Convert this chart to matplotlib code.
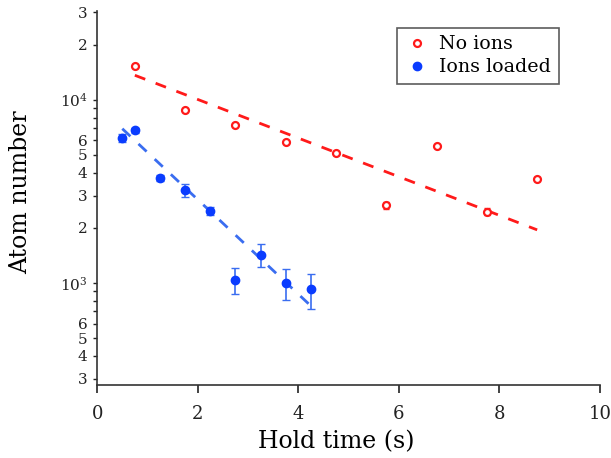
import matplotlib
matplotlib.use("Agg")
import matplotlib.pyplot as plt
from matplotlib.ticker import FixedLocator, FixedFormatter, NullFormatter

plt.rcParams['font.family'] = ['DejaVu Serif']
plt.rcParams['mathtext.fontset'] = 'dejavuserif'

# No ions (red, open circles)
t_no = [0.75, 1.75, 2.75, 3.75, 4.75, 5.75, 6.75, 7.75, 8.75]
n_no = [15300, 8800, 7300, 5900, 5100, 2650, 5600, 2450, 3700]
e_no = [150, 120, 100, 90, 80, 130, 90, 110, 80]
fit_no_t = [0.75, 8.75]
fit_no_n = [13600, 1950]

# Ions loaded (blue, filled circles)
t_ion = [0.5, 0.75, 1.25, 1.75, 2.25, 2.75, 3.25, 3.75, 4.25]
n_ion = [6200, 6800, 3750, 3200, 2470, 1040, 1430, 1000, 925]
e_ion = [300, 200, 150, 250, 130, 170, 200, 190, 200]
fit_ion_t = [0.5, 4.25]
fit_ion_n = [6950, 750]

ytick_vals = [300, 400, 500, 600, 1000, 2000, 3000, 4000, 5000, 6000, 10000, 20000, 30000]
ytick_labels = ['3', '4', '5', '6', r'$10^3$', '2', '3', '4', '5', '6', r'$10^4$', '2', '3']
yminor_vals = [700, 800, 900, 7000, 8000, 9000]

red = '#ff1a1a'
blue = '#0a3cff'
blue_line = '#3a6df0'

fig = plt.figure(figsize=(6.11, 4.58), dpi=100)
ax = fig.add_axes([0.159, 0.159, 0.823, 0.817])

ax.plot(fit_no_t, fit_no_n, color=red, lw=2, dashes=(4, 4))
ax.plot(fit_ion_t, fit_ion_n, color=blue_line, lw=2, dashes=(4, 4))

ax.errorbar(t_no, n_no, yerr=e_no, fmt='none', ecolor=red, elinewidth=1, capsize=2.5)
ax.errorbar(t_ion, n_ion, yerr=e_ion, fmt='none', ecolor=blue_line, elinewidth=1.2, capsize=3)
ax.plot(t_no, n_no, 'o', ls='none', mfc='white', mec=red, mew=1.6, ms=5, label='No ions')
ax.plot(t_ion, n_ion, 'o', ls='none', color=blue, ms=6, label='Ions loaded')

ax.set_yscale('log')
ax.set_xlim(0, 10)
ax.set_ylim(277, 30500)
ax.yaxis.set_major_locator(FixedLocator(ytick_vals))
ax.yaxis.set_major_formatter(FixedFormatter(ytick_labels))
ax.yaxis.set_minor_locator(FixedLocator(yminor_vals))
ax.yaxis.set_minor_formatter(NullFormatter())
ax.set_xticks([0, 2, 4, 6, 8, 10])

ax.spines['top'].set_visible(False)
ax.spines['right'].set_visible(False)
for s in ['left', 'bottom']:
    ax.spines[s].set_color('#333333')
    ax.spines[s].set_linewidth(1.2)

ax.tick_params(axis='x', direction='out', length=6, width=1.2, labelsize=13, pad=8, colors='#222222')
ax.tick_params(axis='y', which='major', direction='out', length=3, width=1, labelsize=11, pad=4, colors='#222222')
ax.tick_params(axis='y', which='minor', direction='out', length=3, width=1, colors='#222222')

ax.set_xlabel('Hold time (s)', fontsize=17)
ax.set_ylabel('Atom number', fontsize=17)
ax.xaxis.set_label_coords(0.475, -0.12)
ax.yaxis.set_label_coords(-0.129, 0.516)

leg = ax.legend(loc='upper right', bbox_to_anchor=(0.918, 0.955), fontsize=13.7,
                frameon=True, fancybox=False, edgecolor='#333333', borderaxespad=0,
                handletextpad=0.5, handlelength=1.3, borderpad=0.4, labelspacing=0.25)
leg.get_frame().set_linewidth(1.2)

fig.savefig('out.png', dpi=100)
